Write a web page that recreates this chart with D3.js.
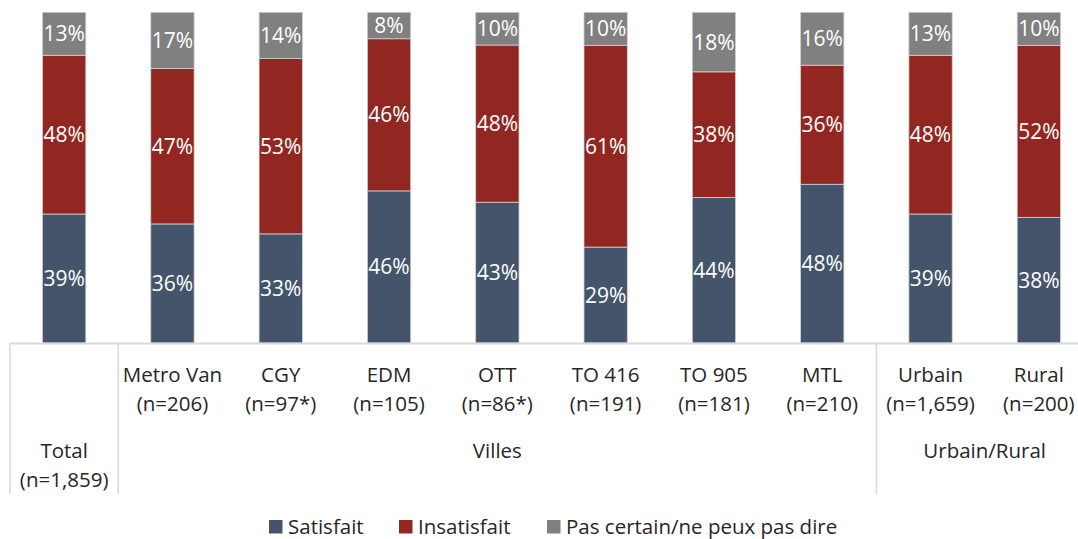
<!DOCTYPE html>
<html>
<head>
<meta charset="utf-8">
<script src="https://cdn.jsdelivr.net/npm/d3@7"></script>
<style>
  html, body { margin: 0; padding: 0; background: #ffffff; }
  svg { display: block; font-family: "Open Sans", "Noto Sans", sans-serif; }
</style>
</head>
<body>
<svg id="chart" width="1078" height="539"></svg>
<script>
// Satisfaction by region (100% stacked)
const categories = ["Total", "Metro Van", "CGY", "EDM", "OTT", "TO 416", "TO 905", "MTL", "Urbain", "Rural"];
const sampleSizes = ["(n=1,859)", "(n=206)", "(n=97*)", "(n=105)", "(n=86*)", "(n=191)", "(n=181)", "(n=210)", "(n=1,659)", "(n=200)"];
const satisfait   = [39, 36, 33, 46, 43, 29, 44, 48, 39, 38];
const insatisfait = [48, 47, 53, 46, 48, 61, 38, 36, 48, 52];
const pasCertain  = [13, 17, 14,  8, 10, 10, 18, 16, 13, 10];
const seriesNames = ["Satisfait", "Insatisfait", "Pas certain/ne peux pas dire"];
const groupLabels = ["Villes", "Urbain/Rural"];
const groupStart  = [1, 8];
const groupEnd    = [7, 9];

const colors = ["#44546a", "#922721", "#808080"];
const textColor = "#262626";
const gridColor = "#d9d9d9";

const svg = d3.select("#chart");

const rows = categories.map((c, i) => ({
  cat: c,
  s0: satisfait[i],
  s1: insatisfait[i],
  s2: pasCertain[i]
}));

const keys = ["s0", "s1", "s2"];
const stack = d3.stack().keys(keys).offset(d3.stackOffsetExpand);
const stacked = stack(rows);

const left = 10, right = 1093;
const x = d3.scaleBand()
  .domain(categories)
  .range([left, right])
  .paddingInner(0.6)
  .paddingOuter(0.3);
const step = x.step();
const slotX = i => left + i * step;

const y = d3.scaleLinear().domain([0, 1]).range([343, 12.3]);

// bars
const layers = svg.append("g").selectAll("g")
  .data(stacked)
  .join("g")
  .attr("fill", (d, i) => colors[i]);

layers.selectAll("rect")
  .data(d => d.map(p => ({ p, key: d.key })))
  .join("rect")
  .attr("x", d => x(d.p.data.cat))
  .attr("width", x.bandwidth())
  .attr("y", d => y(d.p[1]))
  .attr("height", d => y(d.p[0]) - y(d.p[1]))
  .attr("stroke", "#d0d0d0")
  .attr("stroke-width", 0.8);

// value labels
layers.selectAll("text")
  .data(d => d.map(p => ({ p, key: d.key })))
  .join("text")
  .attr("x", d => x(d.p.data.cat) + x.bandwidth() / 2)
  .attr("y", d => (y(d.p[0]) + y(d.p[1])) / 2)
  .attr("dy", "0.36em")
  .attr("text-anchor", "middle")
  .attr("fill", "#ffffff")
  .attr("font-size", 21)
  .text(d => d.p.data[d.key] + "%");

// category axis with separators
const axisG = svg.append("g");
axisG.append("line")
  .attr("x1", left).attr("x2", right)
  .attr("y1", y(0) + 0.5).attr("y2", y(0) + 0.5)
  .attr("stroke", gridColor).attr("stroke-width", 2);

const separators = [0, 1, 8, 10];
axisG.selectAll("line.sep")
  .data(separators)
  .join("line")
  .attr("class", "sep")
  .attr("x1", d => slotX(d)).attr("x2", d => slotX(d))
  .attr("y1", y(0)).attr("y2", 494)
  .attr("stroke", gridColor).attr("stroke-width", 1.5);

const labelG = svg.append("g")
  .attr("fill", textColor)
  .attr("font-size", 20.5)
  .attr("text-anchor", "middle");

categories.forEach((c, i) => {
  const cx = x(c) + x.bandwidth() / 2;
  const base = i === 0 ? 457.7 : 382;
  const t = labelG.append("text").attr("x", cx).attr("y", base);
  t.append("tspan").attr("x", cx).text(c);
  t.append("tspan").attr("x", cx).attr("dy", 29).text(sampleSizes[i]);
});

groupLabels.forEach((g, i) => {
  const cx = (slotX(groupStart[i]) + slotX(groupEnd[i] + 1)) / 2;
  labelG.append("text").attr("x", cx).attr("y", 457.7).text(g);
});

// legend
const legendX = [269, 399, 547];
const legend = svg.append("g").selectAll("g")
  .data(seriesNames)
  .join("g")
  .attr("transform", (d, i) => `translate(${legendX[i]},520)`);
legend.append("rect")
  .attr("width", 13.5).attr("height", 13.5)
  .attr("fill", (d, i) => colors[i]);
legend.append("text")
  .attr("x", 19).attr("y", 13.5)
  .attr("fill", textColor)
  .attr("font-size", 20.5)
  .text(d => d);
</script>
</body>
</html>
